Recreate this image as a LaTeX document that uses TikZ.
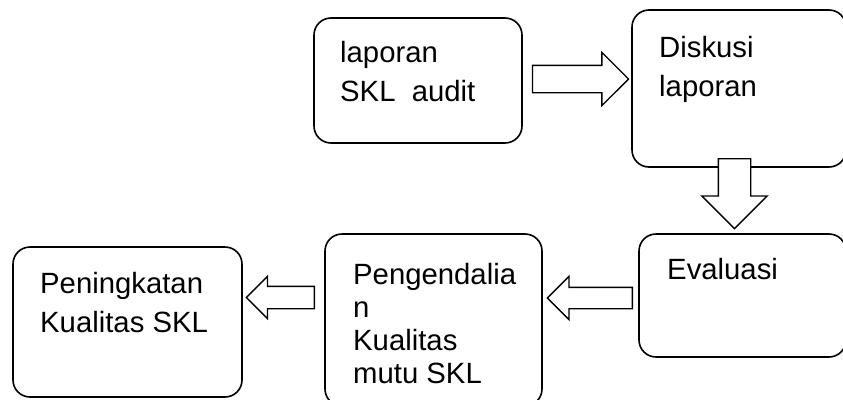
\documentclass[tikz,border=0pt]{standalone}
\usepackage{fontspec}
\setmainfont{Liberation Sans}
\usetikzlibrary{shapes.arrows,calc}
\tikzset{
  kotak/.style={draw,line width=1.6pt,rounded corners=17pt,inner sep=0pt},
  teks/.style={anchor=north west,inner sep=0pt,align=left,font=\fontsize{29.3}{39}\selectfont},
  panah/.style={draw,fill=white,line width=1.4pt,single arrow,anchor=tail,inner xsep=0pt,single arrow tip angle=90}
}
\begin{document}
\begin{tikzpicture}[x=1pt,y=-1pt]
\useasboundingbox (0,0) rectangle (843,399);
\node[kotak,minimum width=208pt,minimum height=125pt] (audit) at (418,80.5) {};
\node[kotak,minimum width=214pt,minimum height=157pt] (diskusi) at (739,88.5) {};
\node[kotak,minimum width=207pt,minimum height=123pt] (evaluasi) at (742.5,295.5) {};
\node[kotak,minimum width=217pt,minimum height=172pt] (kendali) at (433.5,320) {};
\node[kotak,minimum width=229pt,minimum height=150pt] (naik) at (127.5,322) {};
\node[teks] (audit-t) at (340,41) {laporan\\SKL\ \ audit};
\node[teks] (diskusi-t) at (659,36) {Diskusi\\laporan};
\node[teks] (evaluasi-t) at (667,258) {Evaluasi};
\node[teks,font=\fontsize{29.3}{33}\selectfont] (kendali-t) at (353,263) {Pengendalia\\n\\Kualitas\\mutu SKL};
\node[teks] (naik-t) at (40,272) {Peningkatan\\Kualitas SKL};
\node[panah,minimum height=96pt,inner ysep=13pt,single arrow head extend=13pt]
  (a1) at ($(audit.east)+(9,-1.5)$) {};
\node[panah,rotate=-90,minimum height=70pt,inner ysep=15.5pt,single arrow head extend=16.5pt]
  (a2) at ($(diskusi.south)+(-4.5,-9.8)$) {};
\node[panah,rotate=180,minimum height=85pt,inner ysep=10pt,single arrow head extend=11pt]
  (a3) at ($(evaluasi.west)+(-5.2,2.5)$) {};
\node[panah,rotate=180,minimum height=68pt,inner ysep=10.5pt,single arrow head extend=10pt]
  (a4) at ($(kendali.west)+(-9.2,-22.5)$) {};
\end{tikzpicture}
\end{document}
